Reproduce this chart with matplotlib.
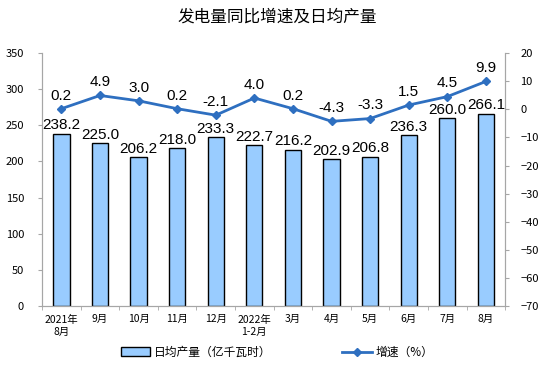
import matplotlib
matplotlib.use("Agg")
import matplotlib.pyplot as plt
import numpy as np

plt.rcParams['font.family'] = ['Noto Sans CJK SC', 'DejaVu Sans']

# Data
months = ["2021年\n8月", "9月", "10月", "11月", "12月", "2022年\n1-2月",
          "3月", "4月", "5月", "6月", "7月", "8月"]
output = [238.2, 225.0, 206.2, 218.0, 233.3, 222.7, 216.2, 202.9, 206.8, 236.3, 260.0, 266.1]
growth = [0.2, 4.9, 3.0, 0.2, -2.1, 4.0, 0.2, -4.3, -3.3, 1.5, 4.5, 9.9]

bar_color = "#99CCFF"
line_color = "#2E6FC0"
axis_color = "#A6A6A6"

fig = plt.figure(figsize=(5.54, 3.87), dpi=100)
ax = fig.add_axes([0.076, 0.209, 0.836, 0.654])
x = np.arange(len(months))

ax.bar(x, output, width=0.42, color=bar_color, edgecolor="black", linewidth=1.0,
       label="日均产量（亿千瓦时）", zorder=2)
for xi, v in zip(x, output):
    ax.text(xi, v + 2, f"{v:.1f}", ha="center", va="bottom", fontsize=11,
            family="Liberation Sans", zorder=5)

ax.set_ylim(0, 350)
ax.set_yticks(range(0, 351, 50))
ax.set_xlim(-0.5, len(months) - 0.5)
ax.set_xticks(x)
ax.set_xticklabels(months, fontsize=7.5, linespacing=1.3)
ax.set_xticks(np.arange(-0.5, len(months), 1), minor=True)
ax.tick_params(axis="x", which="major", length=0, pad=6)
ax.tick_params(axis="x", which="minor", length=3, color=axis_color)
ax.tick_params(axis="y", labelsize=8, length=3, color=axis_color, pad=10)

ax2 = ax.twinx()
ax2.plot(x, growth, color=line_color, linewidth=2, marker="D", markersize=4,
         label="增速（%）", zorder=4)
for xi, v in zip(x, growth):
    ax2.text(xi, v + 2.2, f"{v:.1f}", ha="center", va="bottom", fontsize=11,
             family="Liberation Sans", zorder=5)
ax2.set_ylim(-70, 20)
ax2.set_yticks(range(-70, 21, 10))
ax2.tick_params(axis="y", labelsize=8, length=3, color=axis_color, pad=8)

for a in (ax, ax2):
    a.spines["top"].set_visible(False)
    for s in ("left", "right", "bottom"):
        a.spines[s].set_color(axis_color)

fig.text(0.5, 0.955, "发电量同比增速及日均产量", ha="center", va="center", fontsize=12)

h1, l1 = ax.get_legend_handles_labels()
h2, l2 = ax2.get_legend_handles_labels()
fig.legend(h1 + h2, l1 + l2, loc="center", bbox_to_anchor=(0.5, 0.09), ncol=2,
           frameon=False, fontsize=8.5, columnspacing=6, handlelength=2.5,
           handletextpad=0.3)

fig.savefig("out.png", dpi=100)
